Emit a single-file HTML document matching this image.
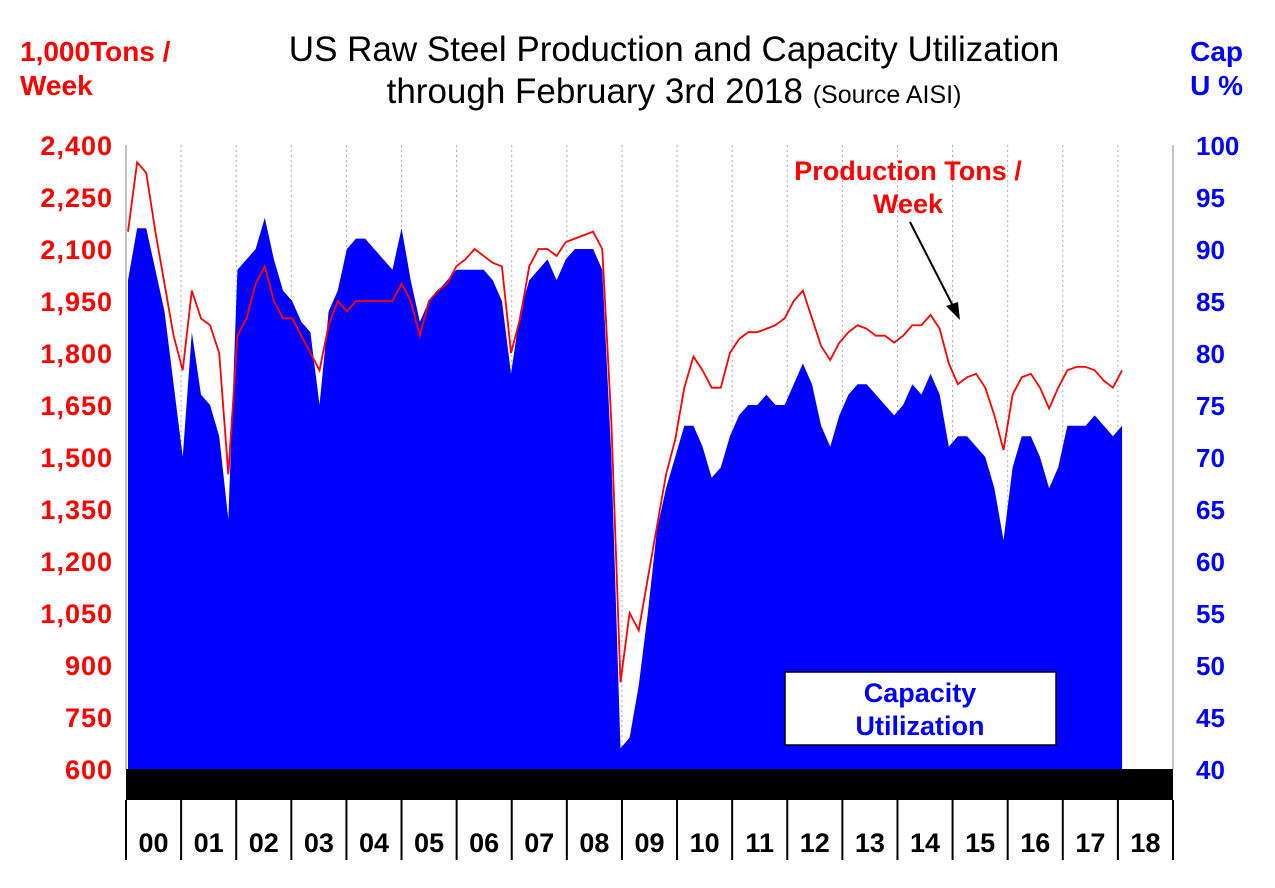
<!DOCTYPE html>
<html><head><meta charset="utf-8"><style>
body{margin:0;background:#fff;}
svg{display:block;font-family:"Liberation Sans",Arial,sans-serif;}
</style></head><body>
<svg id="chart" width="1275" height="888" viewBox="0 0 1275 888">
<text x="674" y="61" text-anchor="middle" font-size="35">US Raw Steel Production and Capacity Utilization</text>
<text x="674" y="103" text-anchor="middle" font-size="35">through February 3rd 2018 <tspan font-size="25">(Source AISI)</tspan></text>
<text x="20" y="61" fill="#ff0000" font-size="28" font-weight="bold">1,000Tons /</text>
<text x="20" y="95" fill="#ff0000" font-size="28" font-weight="bold">Week</text>
<text x="1243" y="61" text-anchor="end" fill="#0000ff" font-size="28" font-weight="bold">Cap</text>
<text x="1243" y="95" text-anchor="end" fill="#0000ff" font-size="28" font-weight="bold">U %</text>
<g id="grid"></g>
<g id="marks"></g>
<g id="axes"></g>
<rect x="126" y="769" width="1047" height="31" fill="#000"/>
<g id="years"></g>
<rect x="785" y="672" width="271" height="73" fill="#fff" stroke="#000" stroke-width="1.5"/>
<text x="920" y="702" text-anchor="middle" fill="#0000ff" font-size="27" font-weight="bold">Capacity</text>
<text x="920" y="735" text-anchor="middle" fill="#0000ff" font-size="27" font-weight="bold">Utilization</text>
<text x="908" y="180" text-anchor="middle" fill="#ff0000" font-size="27" font-weight="bold">Production Tons /</text>
<text x="908" y="213" text-anchor="middle" fill="#ff0000" font-size="27" font-weight="bold">Week</text>
<line x1="910" y1="222" x2="955" y2="310" stroke="#000" stroke-width="2"/>
<polygon points="960,320 946,306 958,302" fill="#000"/>
</svg>
<script>
const yearLabels=["00","01","02","03","04","05","06","07","08","09","10","11","12","13","14","15","16","17","18"];
const leftTicks=[600,750,900,1050,1200,1350,1500,1650,1800,1950,2100,2250,2400];
const rightTicks=[40,45,50,55,60,65,70,75,80,85,90,95,100];
const capacity=[87,92,92,88,84,77, 70,82,76,75,72,64, 88,89,90,93,89,86, 85,83,82,75,84,86, 90,91,91,90,89,88, 92,87,83,85,86,87, 88,88,88,88,87,85, 78,84,87,88,89,87, 89,90,90,90,88,70, 42,43,48,55,63,67, 70,73,73,71,68,69, 72,74,75,75,76,75, 75,77,79,77,73,71, 74,76,77,77,76,75, 74,75,77,76,78,76, 71,72,72,71,70,67, 62,69,72,72,70,67, 69,73,73,73,74,73, 72,73];
const production=[2150,2350,2320,2150,2000,1850, 1750,1980,1900,1880,1800,1450, 1850,1900,2000,2050,1950,1900, 1900,1850,1800,1750,1880,1950, 1920,1950,1950,1950,1950,1950, 2000,1950,1850,1950,1980,2000, 2050,2070,2100,2080,2060,2050, 1800,1900,2050,2100,2100,2080, 2120,2130,2140,2150,2100,1600, 850,1050,1000,1150,1300,1450, 1550,1700,1790,1750,1700,1700, 1800,1840,1860,1860,1870,1880, 1900,1950,1980,1900,1820,1780, 1830,1860,1880,1870,1850,1850, 1830,1850,1880,1880,1910,1870, 1770,1710,1730,1740,1700,1620, 1520,1680,1730,1740,1700,1640, 1700,1750,1760,1760,1750,1720, 1700,1750];
const NS="http://www.w3.org/2000/svg";
const X0=126,YW=1047/19,TOP=145,BOT=769;
const xAt=i=>X0+2+(i/6)*YW*0.993;
const yL=v=>BOT-(v-600)/1800*(BOT-TOP);
const yR=v=>BOT-(v-40)/60*(BOT-TOP);
function mk(tag,attrs,parent){const e=document.createElementNS(NS,tag);for(const k in attrs)e.setAttribute(k,attrs[k]);document.getElementById(parent).appendChild(e);return e;}
for(let i=1;i<19;i++){const l=mk('line',{x1:X0+i*YW,x2:X0+i*YW,y1:TOP,y2:BOT,stroke:'#aaa','stroke-dasharray':'2,3','stroke-width':1},'grid');

}
leftTicks.forEach(v=>{const t=mk('text',{x:113,y:yL(v)+10,'text-anchor':'end',fill:'#ff0000','font-size':27,'font-weight':'bold','letter-spacing':'1'},'axes');t.textContent=v.toLocaleString('en-US');

});
rightTicks.forEach(v=>{const t=mk('text',{x:1196,y:yR(v)+10,fill:'#0000ff','font-size':26,'font-weight':'bold'},'axes');t.textContent=v;

});
const al=mk('line',{x1:X0,x2:X0,y1:TOP,y2:BOT,stroke:'#888'},'axes');


const ar=mk('line',{x1:X0+19*YW,x2:X0+19*YW,y1:TOP,y2:BOT,stroke:'#888'},'axes');


let d=`M${xAt(0)},${BOT}`;capacity.forEach((v,i)=>d+=` L${xAt(i)},${yR(v)}`);d+=` L${xAt(capacity.length-1)},${BOT} Z`;
const area=mk('path',{d:d,fill:'#0000ff'},'marks');


let p='';production.forEach((v,i)=>p+=(i?' L':'M')+xAt(i)+','+yL(v));
const line=mk('path',{d:p,fill:'none',stroke:'#ff0000','stroke-width':1.8},'marks');


yearLabels.forEach((y,i)=>{const t=mk('text',{x:X0+(i+.5)*YW,y:852,'text-anchor':'middle','font-size':27,'font-weight':'bold'},'years');t.textContent=y;

});
for(let i=0;i<=19;i++){const l=mk('line',{x1:X0+i*YW,x2:X0+i*YW,y1:800,y2:860,stroke:'#000','stroke-width':2},'years');

}
</script>
</body></html>
